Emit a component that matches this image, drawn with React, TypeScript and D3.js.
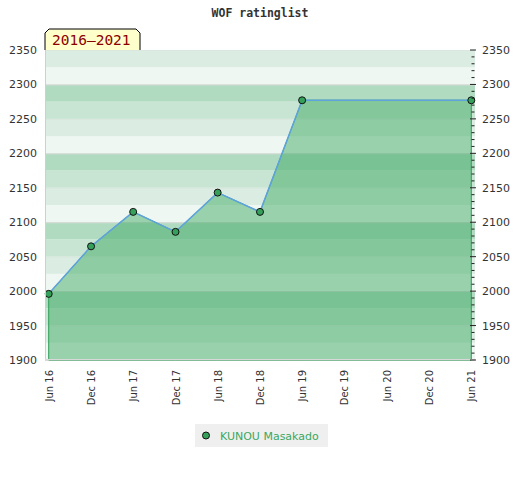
import React from "react";
import * as d3 from "d3";

const dates = ["2016-06-01", "2016-12-01", "2017-06-01", "2017-12-01", "2018-06-01", "2018-12-01", "2019-06-01", "2021-06-01"];
const ratings = [1996, 2065, 2115, 2086, 2143, 2115, 2277, 2277];
const tickDates = ["2016-06-01", "2016-12-01", "2017-06-01", "2017-12-01", "2018-06-01", "2018-12-01", "2019-06-01", "2019-12-01", "2020-06-01", "2020-12-01", "2021-06-01"];
const yTicks = [1900, 1950, 2000, 2050, 2100, 2150, 2200, 2250, 2300, 2350];
const seriesName = "KUNOU Masakado";
const title = "WOF ratinglist";
const periodLabel = "2016\u20132021";
const bandColors = ["#eef7f1", "#dbede2", "#c7e5d2", "#b1dbc1"]; // from bottom to top within each 100

const W = 520, H = 480;
const L = 45, R = 475, T = 50, B = 360;

export default function App() {
  const parse = d3.timeParse("%Y-%m-%d");
  const pts = dates.map((d, i) => ({ date: parse(d) as Date, v: ratings[i] }));
  const x = d3.scaleTime()
    .domain([parse(dates[0]) as Date, parse(dates[dates.length - 1]) as Date])
    .range([48.7, 471.3]);
  const y = d3.scaleLinear().domain([1900, 2350]).range([B, T]);
  const fmt = d3.timeFormat("%b %y");

  const line = d3.line<any>().x((d) => x(d.date)).y((d) => y(d.v));
  const area = d3.area<any>().x((d) => x(d.date)).y0(B).y1((d) => y(d.v));

  const bands: { lo: number; hi: number; c: string }[] = [];
  for (let v = 1900; v < 2350; v += 25) {
    const idx = ((v - 1900) / 25) % 4;
    bands.push({ lo: v, hi: v + 25, c: bandColors[idx] });
  }
  const minor = d3.range(1900, 2351, 10);
  const fill = "rgb(58,168,97)";
  const font = "'DejaVu Sans', sans-serif";

  return (
    <div style={{ position: "absolute", left: 0, top: 0 }}>
      <svg width={W} height={H} style={{ display: "block", background: "#fff" }}>
        <text x={260} y={17} textAnchor="middle" fontFamily="'DejaVu Sans Mono', monospace" fontWeight="bold" fontSize={11.5} fill="#333">{title}</text>
        {bands.map((b, i) => (
          <rect key={i} x={L} y={y(b.hi)} width={R - L} height={y(b.lo) - y(b.hi)} fill={b.c} />
        ))}
        {yTicks.map((t) => (
          <line key={"g" + t} x1={L} x2={R} y1={y(t) + 0.5} y2={y(t) + 0.5} stroke="#d8d8d8" strokeWidth={t % 100 === 0 ? 1 : 0.5} opacity={t % 100 === 0 ? 1 : 0.6} />
        ))}
        <path d={area(pts) as string} fill={fill} fillOpacity={0.48} stroke="#2e9e57" strokeWidth={1} />
        <path d={line(pts) as string} fill="none" stroke="#5fa3dc" strokeWidth={1.5} />
        {pts.map((p, i) => (
          <circle key={i} cx={x(p.date)} cy={y(p.v)} r={3.5} fill="#34a05a" stroke="#111" strokeWidth={1} />
        ))}
        <line x1={L + 0.5} x2={L + 0.5} y1={T} y2={B} stroke="#cfcfcf" />
        <line x1={L} x2={R} y1={B - 0.5} y2={B - 0.5} stroke="#d8d8d8" />
        {minor.map((t) => (
          <line key={"m" + t} x1={t % 50 === 0 ? 470 : 471.5} x2={t % 50 === 0 ? 476 : 474.5} y1={y(t)} y2={y(t)} stroke="#222" strokeWidth={1} />
        ))}
        {yTicks.map((t) => (
          <text key={"l" + t} x={37} y={y(t) + 4} textAnchor="end" fontFamily={font} fontSize={11} fill="#333">{t}</text>
        ))}
        {yTicks.map((t) => (
          <text key={"r" + t} x={482} y={y(t) + 4} textAnchor="start" fontFamily={font} fontSize={11} fill="#333">{t}</text>
        ))}
        {tickDates.map((d) => {
          const dt = parse(d) as Date;
          const tx = x(dt);
          return (
            <text key={d} transform={`translate(${tx + 4},370) rotate(-90)`} textAnchor="end" fontFamily={font} fontSize={10} fill="#333">{fmt(dt)}</text>
          );
        })}
        <path d="M45,50 L45,33 L49,29 L136,29 L140,33 L140,50" fill="#ffffcc" stroke="#000" strokeWidth={1} />
        <text x={52} y={45} fontFamily="'DejaVu Sans Mono', monospace" fontSize={14.5} fill="#8b0000">{periodLabel}</text>
        <rect x={195} y={424} width={133} height={23} fill="#efefef" />
        <circle cx={206} cy={435.5} r={3.5} fill="#34a05a" stroke="#111" strokeWidth={1} />
        <text x={220} y={440} fontFamily={font} fontSize={11} fill="#3aa861">{seriesName}</text>
      </svg>
    </div>
  );
}
